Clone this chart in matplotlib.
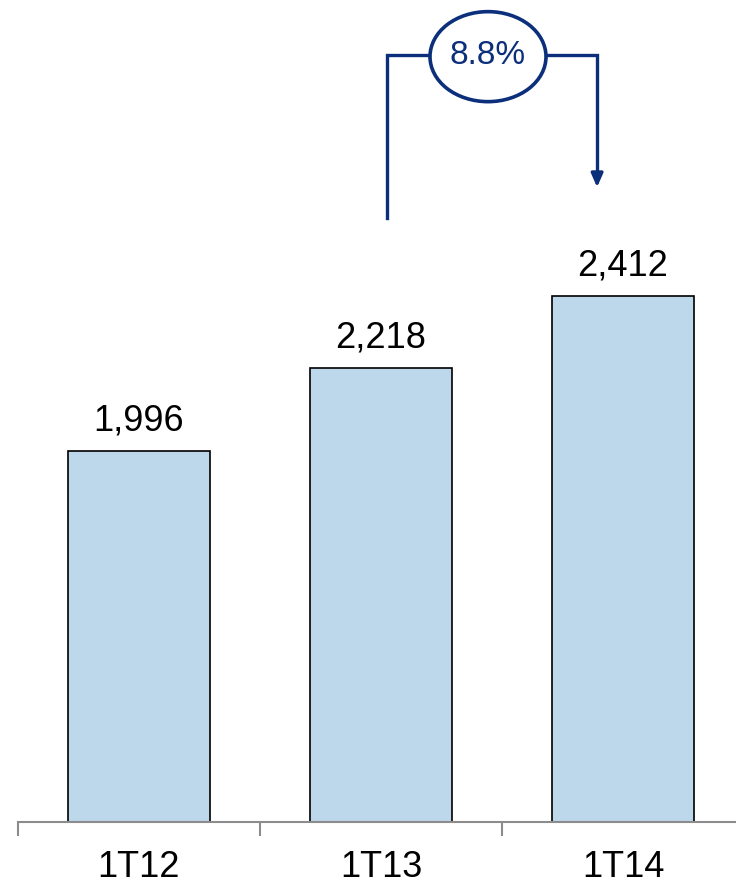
import matplotlib.pyplot as plt
from matplotlib.patches import Ellipse

plt.rcParams['font.family'] = ['Liberation Sans', 'DejaVu Sans']

# data
periods = ['1T12', '1T13', '1T14']
values = [1996, 2218, 2412]
growth_label = '8.8%'

navy = '#0B2F7A'
bar_color = '#BDD7EB'

fig = plt.figure(figsize=(7.36, 8.83), dpi=100)
# axes spans x from 18px to 744px, y from bottom 61px to top
ax = fig.add_axes([18 / 736, 61 / 883, 726 / 736, 822 / 883])

x = list(range(len(periods)))
ax.bar(x, values, width=0.59, color=bar_color, edgecolor='black', linewidth=1.2, zorder=2)
ymin = 1000
ax.set_ylim(ymin, ymin + 822 / 0.3726)
ax.set_xlim(-0.5, 2.5)

for xi, v in zip(x, values):
    ax.text(xi, v + 56, f'{v:,}', ha='center', va='baseline', fontsize=26)

for s in ['top', 'right', 'left']:
    ax.spines[s].set_visible(False)
ax.spines['bottom'].set_color('#8C8C8C')
ax.spines['bottom'].set_linewidth(1.5)
ax.set_yticks([])
ax.set_xticks([-0.5, 0.5, 1.5], minor=False)
ax.set_xticklabels([])
ax.tick_params(axis='x', which='major', length=10, width=1.5, color='#8C8C8C', direction='out')
ax.set_xticks(x, minor=True)
ax.set_xticklabels(periods, minor=True, fontsize=26)
ax.tick_params(axis='x', which='minor', length=0, pad=20)

# growth bracket (axes-fraction y, data x)
trans = ax.get_xaxis_transform()
y_top = (822 - 55) / 822
y_left_bot = (822 - 218) / 822
y_arrow = (822 - 190) / 822
xl, xr = 1.025, 1.893
ax.plot([xl, xl, xr, xr], [y_left_bot, y_top, y_top, y_arrow + 0.02], color=navy,
        linewidth=2.4, transform=trans, clip_on=False, solid_joinstyle='miter')
ax.annotate('', xy=(xr, y_arrow), xytext=(xr, y_arrow + 0.021), xycoords=trans,
            arrowprops=dict(arrowstyle='-|>,head_length=0.8,head_width=0.35', color=navy, lw=2.4))
ex = (488 - 18) / 242 - 0.5
ell = Ellipse((ex, y_top - 0.002), width=116 / 242, height=90 / 822, transform=trans,
              facecolor='white', edgecolor=navy, linewidth=2.6, zorder=5, clip_on=False)
ax.add_patch(ell)
ax.text(ex, y_top, growth_label, transform=trans, ha='center', va='center',
        fontsize=24, color=navy, zorder=6)

fig.savefig('out.png', dpi=100)
